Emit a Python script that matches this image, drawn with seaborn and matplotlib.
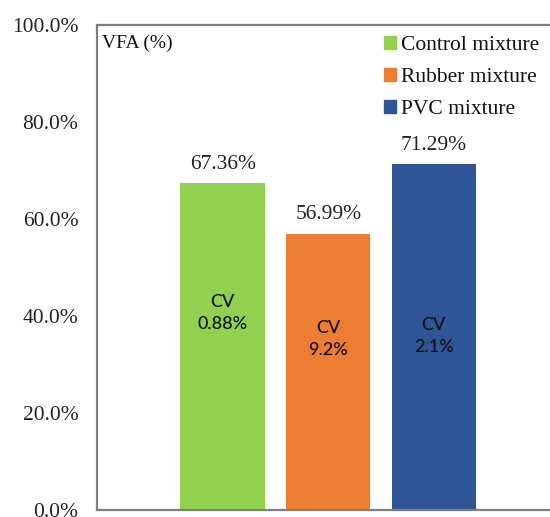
import matplotlib
matplotlib.use("Agg")
import matplotlib.pyplot as plt
import matplotlib.patches as mpatches
import seaborn as sns
import pandas as pd

# Data
mixtures = ["Control mixture", "Rubber mixture", "PVC mixture"]
vfa = [67.36, 56.99, 71.29]
cv_labels = ["0.88%", "9.2%", "2.1%"]
colors = ["#92D050", "#ED7D31", "#2F5597"]
y_ticks = [0, 20, 40, 60, 80, 100]

# Vertical placement of the CV annotations inside each bar (data units)
cv_text_y = [40.6, 35.3, 35.9]

sns.set_theme(style="white")
plt.rcParams["font.family"] = ["Liberation Serif", "DejaVu Serif"]

df = pd.DataFrame({"mixture": mixtures, "vfa": vfa})

fig = plt.figure(figsize=(5.5, 5.17), dpi=100)
ax = fig.add_axes([97 / 550, 7 / 517, 1 - 97 / 550, 485 / 517])

sns.barplot(data=df, x="mixture", y="vfa", hue="mixture", palette=colors,
            order=mixtures, hue_order=mixtures, width=0.8, dodge=False,
            legend=False, ax=ax, saturation=1, edgecolor="none")

ax.set_xlim(-1.19, 3.10)
ax.set_ylim(0, 100)
ax.set_yticks(y_ticks)
ax.set_yticklabels([f"{t:.1f}%" for t in y_ticks], fontsize=15.5, color="#222222")
ax.set_xticks([])
ax.set_xlabel("")
ax.set_ylabel("")
ax.tick_params(axis="y", length=0, pad=13.5)

for side in ["left", "bottom", "top"]:
    ax.spines[side].set_color("#7f7f7f")
    ax.spines[side].set_linewidth(1.6)
ax.spines["right"].set_visible(False)

# Value labels above bars
for i, v in enumerate(vfa):
    ax.text(i, v + 2.0, f"{v:.2f}%", ha="center", va="bottom",
            fontsize=15.5, color="#222222")

# CV labels inside bars
for i, (lab, yv) in enumerate(zip(cv_labels, cv_text_y)):
    ax.text(i, yv, f"CV\n{lab}", ha="center", va="center", fontsize=13,
            color="#111111", family=["Lato", "DejaVu Sans"], weight="medium",
            linespacing=1.45)

ax.text(0.012, 0.98, "VFA (%)", transform=ax.transAxes, ha="left", va="top",
        fontsize=14, color="#111111")

handles = [mpatches.Patch(color=c, label=m) for c, m in zip(colors, mixtures)]
leg = ax.legend(handles=handles, loc="upper right", bbox_to_anchor=(1.0, 1.0),
                frameon=False, fontsize=15.5, handlelength=0.55, handleheight=0.55,
                handletextpad=0.22, labelspacing=0.6, borderaxespad=0.1)
for t in leg.get_texts():
    t.set_color("#111111")

fig.savefig("out.png", dpi=100)
